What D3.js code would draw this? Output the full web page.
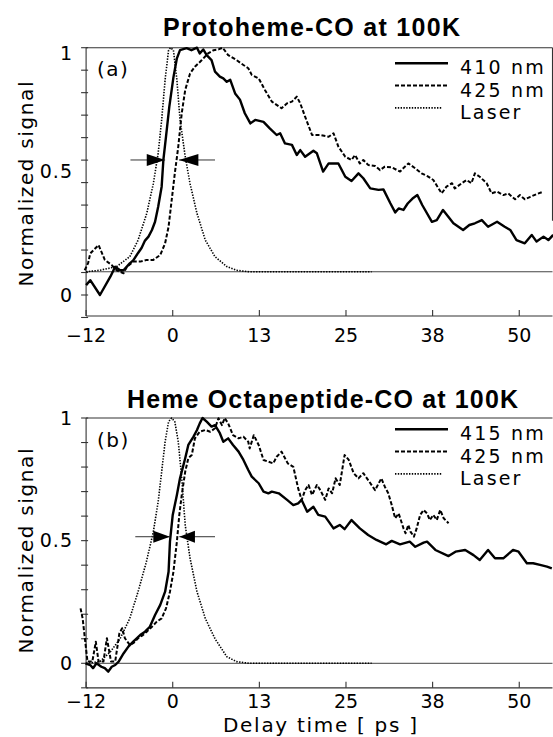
<!DOCTYPE html>
<html><head><meta charset="utf-8">
<script src="https://cdn.jsdelivr.net/npm/d3@7"></script>
<style>body{margin:0;background:#fff}svg{display:block}</style>
</head><body>
<script>
// ---------- data ----------
const xTickVals = [-12.5, 0, 12.5, 25, 37.5, 50];
const xTickLabels = ["\u221212", "0", "13", "25", "38", "50"];
const yLabelVals = [0, 0.5, 1];
const yLabelText = ["0", "0.5", "1"];
const topTitle = "Protoheme-CO at 100K";
const botTitle = "Heme Octapeptide-CO at 100K";
const topLegend = ["410 nm", "425 nm", "Laser"];
const botLegend = ["415 nm", "425 nm", "Laser"];
const topTag = "(a)";
const botTag = "(b)";
const xAxisTitle = "Delay time [ ps ]";
const yAxisTitle = "Normalized signal";

const top410 = [[-12.5,0.04],[-11.9,0.06],[-10.5,0.0],[-9.0,0.074],[-8.3,0.114],[-7.6,0.10],[-7.1,0.10],[-6.2,0.128],[-5.7,0.14],[-5.0,0.17],[-4.5,0.19],[-4.0,0.22],[-3.5,0.236],[-3.0,0.263],[-2.55,0.296],[-2.1,0.357],[-1.6,0.438],[-1.35,0.546],[-0.97,0.64],[-0.5,0.76],[0.1,0.88],[0.6,0.957],[1.05,0.99],[2.0,0.998],[2.7,0.99],[3.5,1.0],[3.9,0.977],[4.4,0.993],[4.9,0.97],[5.6,0.95],[6.1,0.903],[6.8,0.883],[7.3,0.876],[7.8,0.862],[8.3,0.87],[9.0,0.815],[9.7,0.79],[10.4,0.735],[11.2,0.694],[11.9,0.708],[13.1,0.70],[14.0,0.674],[15.0,0.647],[15.5,0.654],[16.2,0.613],[17.2,0.607],[17.9,0.566],[18.4,0.586],[19.1,0.559],[20.3,0.583],[20.8,0.573],[21.7,0.499],[22.5,0.532],[23.9,0.532],[24.9,0.478],[25.8,0.461],[26.8,0.492],[27.5,0.472],[28.5,0.431],[29.7,0.425],[30.4,0.427],[31.4,0.371],[32.1,0.334],[32.6,0.35],[33.3,0.344],[33.9,0.37],[34.6,0.39],[35.3,0.404],[36.0,0.364],[37.4,0.296],[38.1,0.303],[39.0,0.344],[40.5,0.29],[41.9,0.263],[42.8,0.283],[43.6,0.29],[44.6,0.303],[45.5,0.276],[46.8,0.296],[47.9,0.276],[48.7,0.263],[49.6,0.222],[50.8,0.209],[51.8,0.243],[52.5,0.216],[53.5,0.236],[54.2,0.222],[54.9,0.243]];
const top425 = [[-12.7,0.10],[-12.2,0.13],[-11.9,0.168],[-10.7,0.202],[-9.8,0.142],[-8.8,0.121],[-8.1,0.10],[-7.1,0.088],[-6.6,0.114],[-5.7,0.135],[-4.7,0.135],[-3.75,0.142],[-2.8,0.142],[-1.8,0.162],[-1.1,0.209],[-0.6,0.276],[-0.15,0.384],[0.3,0.492],[0.8,0.6],[1.3,0.735],[1.8,0.829],[2.5,0.896],[3.2,0.923],[4.2,0.95],[5.1,0.977],[5.9,0.99],[6.6,0.993],[7.2,1.0],[8.0,0.97],[9.2,0.95],[10.2,0.93],[10.9,0.917],[11.4,0.89],[12.4,0.876],[13.3,0.829],[14.3,0.782],[15.7,0.755],[16.5,0.775],[17.2,0.782],[17.9,0.802],[18.4,0.775],[19.1,0.721],[20.1,0.647],[21.3,0.647],[22.5,0.64],[23.2,0.654],[23.9,0.6],[24.9,0.559],[25.8,0.546],[26.3,0.566],[27.0,0.532],[27.5,0.546],[28.2,0.526],[29.2,0.522],[29.9,0.505],[30.6,0.519],[31.6,0.516],[32.8,0.499],[33.5,0.519],[34.0,0.532],[35.0,0.512],[35.9,0.492],[36.8,0.48],[37.6,0.465],[38.8,0.411],[39.5,0.438],[40.3,0.452],[40.7,0.431],[41.7,0.452],[42.4,0.465],[43.1,0.452],[43.6,0.492],[44.3,0.478],[45.3,0.452],[46.0,0.411],[46.8,0.418],[47.7,0.404],[48.4,0.411],[49.4,0.387],[50.1,0.404],[50.8,0.387],[51.6,0.397],[52.5,0.408],[53.5,0.418]];
const topLaser = [[-12.5,0.094],[-10.5,0.10],[-8.1,0.115],[-6.2,0.155],[-5.0,0.222],[-3.75,0.33],[-2.8,0.45],[-2.1,0.573],[-1.6,0.707],[-1.1,0.87],[-0.6,0.99],[-0.3,1.0],[0.1,0.99],[0.6,0.87],[1.05,0.71],[1.8,0.56],[2.5,0.45],[3.5,0.33],[4.7,0.222],[6.1,0.155],[7.8,0.115],[9.2,0.10],[11,0.094],[28.7,0.094]];
const topBaseline = 0.094;
const topFwhm = {y: 0.546, left: [-6.1, -3.75, -1.1], right: [6.1, 3.7, 0.9]};

const bot415 = [[-12.6,0.0],[-11.9,-0.007],[-11.5,-0.02],[-11.0,0.0],[-10.3,-0.014],[-9.8,-0.02],[-9.3,-0.034],[-8.8,-0.014],[-8.3,-0.007],[-7.8,0.007],[-7.1,0.04],[-6.4,0.068],[-5.7,0.088],[-4.7,0.115],[-4.0,0.129],[-3.3,0.149],[-2.55,0.197],[-1.8,0.238],[-1.1,0.292],[-0.6,0.373],[-0.4,0.496],[0,0.605],[0.6,0.686],[1.05,0.754],[1.8,0.836],[2.25,0.89],[3.0,0.924],[3.5,0.951],[3.9,0.978],[4.3,1.0],[4.9,0.985],[5.6,0.965],[6.1,0.971],[6.8,0.938],[7.3,0.903],[8.0,0.917],[8.7,0.89],[9.5,0.863],[10.2,0.829],[10.9,0.788],[11.4,0.761],[12.4,0.734],[13.1,0.70],[13.8,0.693],[14.3,0.70],[15.3,0.693],[16.5,0.666],[17.4,0.645],[18.1,0.652],[18.6,0.666],[19.4,0.618],[20.3,0.638],[21.0,0.605],[22.0,0.598],[23.2,0.55],[24.1,0.564],[24.8,0.547],[25.8,0.584],[27.0,0.55],[28.2,0.523],[29.4,0.503],[30.8,0.485],[31.6,0.499],[32.8,0.485],[34.2,0.496],[35.0,0.475],[36.2,0.492],[36.7,0.496],[37.9,0.462],[39.8,0.437],[40.8,0.455],[42.2,0.462],[43.4,0.441],[44.3,0.421],[45.5,0.462],[46.5,0.428],[47.7,0.428],[49.1,0.462],[49.9,0.455],[51.1,0.408],[52.0,0.408],[53.0,0.401],[54.0,0.394],[54.7,0.387]];
const bot425 = [[-13.3,0.224],[-13.0,0.183],[-12.3,0.007],[-11.6,0.007],[-11.1,0.088],[-10.7,0.007],[-10.0,0.007],[-9.5,0.102],[-8.9,0.007],[-8.3,0.007],[-7.7,0.122],[-7.3,0.143],[-6.9,0.102],[-6.2,0.075],[-5.7,0.082],[-5.0,0.102],[-4.3,0.115],[-3.75,0.129],[-3.0,0.149],[-2.3,0.17],[-1.6,0.183],[-0.97,0.224],[-0.4,0.292],[0.1,0.373],[0.6,0.496],[0.95,0.605],[1.3,0.686],[1.8,0.781],[2.25,0.836],[2.75,0.849],[3.2,0.917],[3.9,0.944],[4.7,0.951],[5.4,0.944],[6.1,0.958],[6.6,0.999],[7.1,0.971],[7.5,1.0],[8.0,0.978],[8.7,0.93],[9.5,0.917],[10.2,0.924],[10.9,0.903],[11.1,0.876],[11.7,0.93],[12.4,0.89],[13.1,0.829],[13.8,0.822],[14.5,0.815],[15.0,0.842],[15.7,0.863],[16.6,0.815],[17.4,0.801],[18.1,0.713],[18.6,0.666],[19.1,0.706],[19.6,0.727],[20.1,0.686],[20.8,0.727],[21.3,0.706],[22.0,0.666],[22.5,0.713],[23.0,0.693],[23.5,0.754],[24.1,0.727],[24.8,0.849],[25.4,0.829],[26.1,0.775],[26.8,0.754],[27.5,0.775],[28.2,0.747],[29.2,0.706],[30.1,0.754],[30.6,0.72],[31.1,0.693],[31.6,0.645],[32.1,0.591],[32.6,0.611],[33.3,0.55],[33.6,0.53],[34.0,0.564],[34.3,0.537],[34.8,0.516],[35.2,0.55],[35.7,0.605],[36.2,0.625],[36.7,0.611],[37.1,0.584],[37.6,0.605],[38.1,0.584],[38.6,0.625],[39.1,0.591],[39.8,0.571]];
const botLaser = [[-12.5,0.0],[-10.5,0.007],[-9.0,0.047],[-7.6,0.10],[-6.2,0.183],[-5.0,0.292],[-3.8,0.414],[-2.8,0.536],[-2.1,0.659],[-1.6,0.78],[-1.1,0.903],[-0.6,0.985],[-0.15,1.0],[0.3,0.985],[0.8,0.903],[1.3,0.754],[1.8,0.564],[2.5,0.428],[3.5,0.292],[4.7,0.183],[6.1,0.10],[7.8,0.027],[9.2,0.007],[11,0.0],[28.7,0.0]];
const botBaseline = 0;
const botFwhm = {y: 0.516, left: [-5.4, -2.8, -0.4], right: [6.1, 3.2, 0.95]};

// ---------- layout ----------
const W = 553, H = 737;
const svg = d3.select("body").append("svg").attr("width", W).attr("height", H);
const x = d3.scaleLinear().domain([-12.5, 55]).range([86.1, 553.9]);
const FONT = "'DejaVu Sans', 'Liberation Sans', sans-serif";

const styles = {
  solid:  {w: 2.4, dash: null},
  dashed: {w: 2.0, dash: "4,2"},
  dotted: {w: 1.6, dash: "1.4,1.4"}
};

function panel(cfg) {
  const y = d3.scaleLinear().domain([0, 1]).range([cfg.zeroY, cfg.oneY]);
  const g = svg.append("g");
  const L = x(-12.5), R = 552.5, T = y(1), B = y(cfg.minVal);
  const frame = "#333";
  g.append("line").attr("x1", L).attr("x2", L).attr("y1", T).attr("y2", B).attr("stroke", frame).attr("stroke-width", 1.1);
  g.append("line").attr("x1", L).attr("x2", R).attr("y1", T).attr("y2", T).attr("stroke", frame).attr("stroke-width", 1.1);
  g.append("line").attr("x1", L).attr("x2", R).attr("y1", B).attr("y2", B).attr("stroke", frame).attr("stroke-width", 1.1);
  if (cfg.rightEdge) g.append("line").attr("x1", R).attr("x2", R).attr("y1", T).attr("y2", y(0.3)).attr("stroke", frame).attr("stroke-width", 1.1);
  // baseline reference
  g.append("line").attr("x1", L).attr("x2", R).attr("y1", y(cfg.baseline)).attr("y2", y(cfg.baseline))
    .attr("stroke", "#444").attr("stroke-width", 1);
  // y ticks
  cfg.yTicks.forEach(v => {
    g.append("line").attr("x1", L - 5).attr("x2", L + 2).attr("y1", y(v)).attr("y2", y(v)).attr("stroke", frame).attr("stroke-width", 1.1);
  });
  // x ticks
  xTickVals.forEach(v => {
    g.append("line").attr("x1", x(v)).attr("x2", x(v)).attr("y1", B).attr("y2", B - 6).attr("stroke", frame).attr("stroke-width", 1.1);
  });
  // tick labels
  yLabelVals.forEach((v, i) => {
    g.append("text").attr("x", 73).attr("y", y(v) + (v === 1 ? cfg.oneLabelShift : 0)).attr("dy", "0.36em").attr("text-anchor", "end")
      .attr("font-family", FONT).attr("font-size", 19).attr("letter-spacing", 1).text(yLabelText[i]);
  });
  xTickVals.forEach((v, i) => {
    g.append("text").attr("x", x(v)).attr("y", B + cfg.xLabelDy).attr("text-anchor", "middle")
      .attr("font-family", FONT).attr("font-size", 19).text(xTickLabels[i]);
  });
  // y axis title
  g.append("text").attr("transform", `translate(33,${cfg.yTitleC}) rotate(-90)`).attr("text-anchor", "middle")
    .attr("font-family", FONT).attr("font-size", 20).attr("textLength", 205).attr("lengthAdjust", "spacing").text(yAxisTitle);
  // title
  g.append("text").attr("x", cfg.titleX).attr("y", cfg.titleY)
    .attr("font-family", "'Liberation Sans', Arial, sans-serif").attr("font-weight", "bold").attr("font-size", 25)
    .attr("textLength", cfg.titleLen).attr("lengthAdjust", "spacing").text(cfg.title);
  // tag
  g.append("text").attr("x", 97).attr("y", cfg.tagY).attr("font-family", FONT).attr("font-size", 20)
    .attr("letter-spacing", 1.5).text(cfg.tag);
  // series
  const line = d3.line().x(d => x(d[0])).y(d => y(d[1]));
  cfg.series.forEach(s => {
    const st = styles[s.style];
    g.append("path").attr("d", line(s.data)).attr("fill", "none").attr("stroke", "#000")
      .attr("stroke-width", st.w).attr("stroke-dasharray", st.dash).attr("stroke-linejoin", "round");
  });
  // FWHM arrows
  const fy = y(cfg.fwhm.y);
  [cfg.fwhm.left, cfg.fwhm.right].forEach(a => {
    const [tail, base, tip] = a.map(x);
    g.append("line").attr("x1", tail).attr("x2", tip).attr("y1", fy).attr("y2", fy).attr("stroke", "#333").attr("stroke-width", 1);
    g.append("path").attr("d", `M${base},${fy - 6}L${tip},${fy}L${base},${fy + 6}Z`).attr("fill", "#000");
  });
  // legend
  cfg.legend.forEach((lab, i) => {
    const st = styles[cfg.series[i].style];
    const ly = cfg.legendY + i * 22.3;
    g.append("line").attr("x1", 395).attr("x2", i === 2 ? 442 : 448).attr("y1", ly).attr("y2", ly)
      .attr("stroke", "#000").attr("stroke-width", st.w).attr("stroke-dasharray", st.dash);
    g.append("text").attr("x", 460).attr("y", ly + 11).attr("font-family", FONT).attr("font-size", 19)
      .attr("letter-spacing", 2.2).text(lab);
  });
}

panel({
  zeroY: 295, oneY: 47.7, minVal: -0.085, baseline: topBaseline, rightEdge: true, oneLabelShift: 5,
  yTicks: d3.range(-1, 12).map(k => k / 11),
  xLabelDy: 26, yTitleC: 184, title: topTitle, titleX: 163, titleY: 36, titleLen: 297,
  tag: topTag, tagY: 76, fwhm: topFwhm, legend: topLegend, legendY: 63.3,
  series: [{data: top410, style: "solid"}, {data: top425, style: "dashed"}, {data: topLaser, style: "dotted"}]
});
panel({
  zeroY: 663.3, oneY: 418, minVal: -0.1, baseline: botBaseline, rightEdge: false, oneLabelShift: 0,
  yTicks: d3.range(-1, 11).map(k => k / 10),
  xLabelDy: 20, yTitleC: 551, title: botTitle, titleX: 127, titleY: 408, titleLen: 391,
  tag: botTag, tagY: 447, fwhm: botFwhm, legend: botLegend, legendY: 429.3,
  series: [{data: bot415, style: "solid"}, {data: bot425, style: "dashed"}, {data: botLaser, style: "dotted"}]
});

svg.append("text").attr("x", 320).attr("y", 732).attr("text-anchor", "middle")
  .attr("font-family", FONT).attr("font-size", 20).attr("textLength", 194).attr("lengthAdjust", "spacing").text(xAxisTitle);
</script>
</body></html>
